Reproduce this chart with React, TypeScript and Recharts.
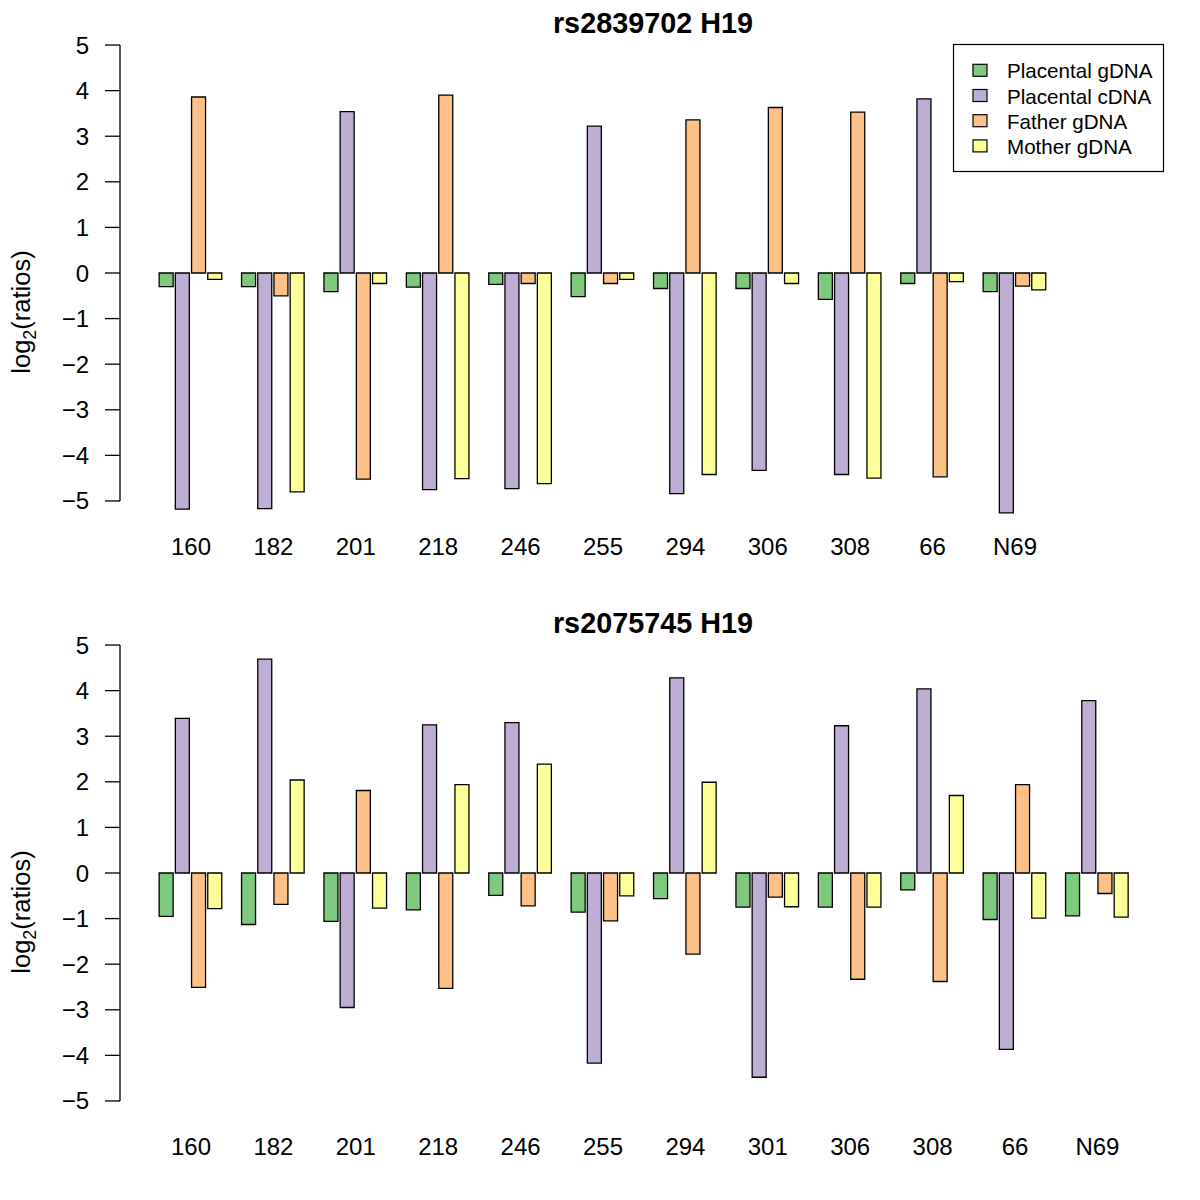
import { BarChart, Bar, XAxis, YAxis } from "recharts";

const FONT = '"Liberation Sans", Arial, Helvetica, sans-serif';

const seriesKeys = ["pg", "pc", "fg", "mg"];
const seriesNames = ["Placental gDNA", "Placental cDNA", "Father gDNA", "Mother gDNA"];
const seriesColors = ["#7FC97F", "#BEAED4", "#FDC086", "#FFFF99"];
const yTicks = [-5, -4, -3, -2, -1, 0, 1, 2, 3, 4, 5];

// rs2839702 H19
const title1 = "rs2839702 H19";
const samples1 = ["160", "182", "201", "218", "246", "255", "294", "306", "308", "66", "N69"];
const placentalG1 = [-0.30, -0.30, -0.41, -0.31, -0.25, -0.52, -0.34, -0.34, -0.58, -0.23, -0.41];
const placentalC1 = [-5.18, -5.17, 3.54, -4.75, -4.73, 3.22, -4.84, -4.33, -4.42, 3.82, -5.26];
const fatherG1 = [3.86, -0.50, -4.52, 3.90, -0.23, -0.23, 3.36, 3.63, 3.53, -4.47, -0.29];
const motherG1 = [-0.14, -4.80, -0.23, -4.51, -4.62, -0.14, -4.42, -0.23, -4.50, -0.19, -0.37];

// rs2075745 H19
const title2 = "rs2075745 H19";
const samples2 = ["160", "182", "201", "218", "246", "255", "294", "301", "306", "308", "66", "N69"];
const placentalG2 = [-0.95, -1.13, -1.06, -0.81, -0.49, -0.86, -0.56, -0.75, -0.75, -0.37, -1.02, -0.94];
const placentalC2 = [3.39, 4.69, -2.95, 3.25, 3.30, -4.17, 4.28, -4.48, 3.23, 4.04, -3.87, 3.78];
const fatherG2 = [-2.51, -0.69, 1.81, -2.53, -0.72, -1.05, -1.78, -0.53, -2.33, -2.38, 1.94, -0.45];
const motherG2 = [-0.78, 2.04, -0.77, 1.94, 2.39, -0.50, 1.99, -0.74, -0.75, 1.70, -0.99, -0.97];

// layout of one 1200x600 panel
const W = 1200;
const H = 600;
const PLOT_LEFT = 120;
const PLOT_RIGHT = 1184;
const PLOT_TOP = 26.8;
const PLOT_BOTTOM = 519.2;
const X_AXIS_H = 30;
const Y_MIN = -5.4;
const Y_MAX = 5.4;
const PX_PER_UNIT = (PLOT_BOTTOM - PLOT_TOP) / (Y_MAX - Y_MIN);
const GROUP_PITCH = 82.4;
const FIRST_BAND = 29.8; // gap between y axis and first group band

function buildRows(cats: string[], pg: number[], pc: number[], fg: number[], mg: number[]) {
  return cats.map((c, i) => ({ sample: c, pg: pg[i], pc: pc[i], fg: fg[i], mg: mg[i] }));
}

const rows1 = buildRows(samples1, placentalG1, placentalC1, fatherG1, motherG1);
const rows2 = buildRows(samples2, placentalG2, placentalC2, fatherG2, motherG2);

function fmt(v: number) {
  return v < 0 ? "\u2212" + Math.abs(v) : String(v);
}

function YTick(props: any) {
  const { x, y, payload } = props;
  const v = payload.value;
  return (
    <g>
      <line x1={x - 15} x2={x} y1={y} y2={y} stroke="#000" strokeWidth={1.3} />
      {v < 5 && <line x1={x} x2={x} y1={y} y2={y - PX_PER_UNIT} stroke="#000" strokeWidth={1.3} />}
      <text x={x - 31} y={y + 8.5} textAnchor="end" fontSize={24} fontFamily={FONT} fill="#000">
        {fmt(v)}
      </text>
    </g>
  );
}

function XTick(props: any) {
  const { x, payload } = props;
  return (
    <text x={x} y={PLOT_BOTTOM + 36} textAnchor="middle" fontSize={24} fontFamily={FONT} fill="#000">
      {payload.value}
    </text>
  );
}

function LegendBox({ left, top }: { left: number; top: number }) {
  return (
    <g transform={`translate(${left}, ${top})`} fontFamily={FONT}>
      <rect x={0.5} y={0.5} width={210} height={127} fill="#fff" stroke="#000" strokeWidth={1.2} />
      {seriesNames.map((name, i) => {
        const base = 34.3 + i * 25.2;
        return (
          <g key={name}>
            <rect x={20} y={base - 14} width={14} height={12} fill={seriesColors[i]} stroke="#000" strokeWidth={1.2} />
            <text x={54} y={base} fontSize={20.6} fill="#000">
              {name}
            </text>
          </g>
        );
      })}
    </g>
  );
}

function Panel({ rows }: { rows: any[] }) {
  const plotW = PLOT_RIGHT - PLOT_LEFT;
  const padRight = plotW - FIRST_BAND - rows.length * GROUP_PITCH;
  return (
    <BarChart
      width={W}
      height={H}
      data={rows}
      margin={{ top: PLOT_TOP, right: W - PLOT_RIGHT, bottom: H - PLOT_BOTTOM - X_AXIS_H, left: PLOT_LEFT - 60 }}
      barCategoryGap={9.35}
      barGap={2.2}
    >
      <XAxis
        dataKey="sample"
        type="category"
        height={X_AXIS_H}
        interval={0}
        axisLine={false}
        tickLine={false}
        tickSize={0}
        tickMargin={0}
        padding={{ left: FIRST_BAND, right: padRight }}
        tick={<XTick />}
      />
      <YAxis
        type="number"
        width={60}
        domain={[Y_MIN, Y_MAX]}
        ticks={yTicks}
        interval={0}
        axisLine={false}
        tickLine={false}
        tickSize={0}
        tickMargin={0}
        tick={<YTick />}
      />
      {seriesKeys.map((k, i) => (
        <Bar
          key={k}
          dataKey={k}
          name={seriesNames[i]}
          fill={seriesColors[i]}
          stroke="#000"
          strokeWidth={1.3}
          isAnimationActive={false}
        />
      ))}
    </BarChart>
  );
}

function PanelText({ title, top }: { title: string; top: number }) {
  const yMid = top + 312;
  return (
    <g fontFamily={FONT} fill="#000">
      <text x={653} y={top + 33} textAnchor="middle" fontSize={28.8} fontWeight="bold">
        {title}
      </text>
      <text transform={`translate(30, ${yMid}) rotate(-90)`} textAnchor="middle" fontSize={25.5}>
        <tspan>log</tspan>
        <tspan fontSize={18} dy={6}>2</tspan>
        <tspan dy={-6}>(ratios)</tspan>
      </text>
    </g>
  );
}

export default function App() {
  return (
    <div style={{ position: "absolute", left: 0, top: 0, width: W, height: 2 * H, background: "#fff" }}>
      <div style={{ position: "absolute", left: 0, top: 0 }}>
        <Panel rows={rows1} />
      </div>
      <div style={{ position: "absolute", left: 0, top: H }}>
        <Panel rows={rows2} />
      </div>
      <svg width={W} height={2 * H} style={{ position: "absolute", left: 0, top: 0, pointerEvents: "none" }}>
        <PanelText title={title1} top={0} />
        <PanelText title={title2} top={H} />
        <LegendBox left={953} top={44} />
      </svg>
    </div>
  );
}
